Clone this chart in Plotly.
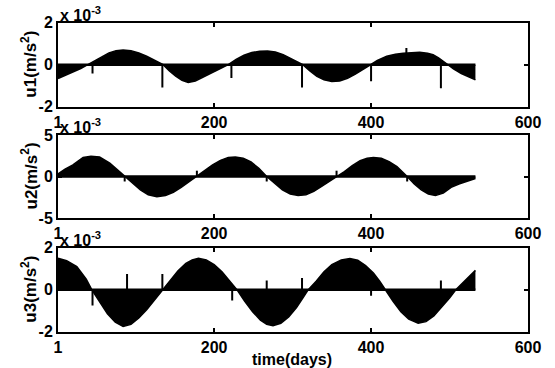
import plotly.graph_objects as go

W, H = 555, 368

# ---------------- data (values in units of 1e-3 m/s^2) ----------------
u1_days = [1, 10, 20, 30, 39, 48, 57, 66, 75, 84, 94, 104, 114, 124, 135,
           143, 151, 159, 167, 176, 185, 194, 203, 211, 218,
           228, 238, 248, 258, 268, 278, 288, 298, 306, 313,
           322, 331, 340, 350, 360, 370, 380, 390, 399,
           408, 420, 431, 441, 452, 462, 472, 479, 486, 492, 498,
           505, 515, 525, 533]
u1_vals = [-0.66, -0.52, -0.36, -0.18, 0.0, 0.2, 0.4, 0.56, 0.67, 0.7, 0.67, 0.56, 0.4, 0.2, 0.0,
           -0.3, -0.55, -0.74, -0.85, -0.78, -0.62, -0.45, -0.27, -0.12, 0.0,
           0.25, 0.45, 0.58, 0.64, 0.65, 0.6, 0.48, 0.3, 0.15, 0.0,
           -0.3, -0.55, -0.72, -0.8, -0.78, -0.65, -0.45, -0.22, 0.0,
           0.2, 0.4, 0.5, 0.55, 0.58, 0.59, 0.55, 0.48, 0.33, 0.16, 0.0,
           -0.2, -0.42, -0.6, -0.72]
u1_spike_days = [45, 134, 222, 312, 400, 445, 489]
u1_spike_vals = [-0.42, -1.08, -0.63, -1.08, -0.79, 0.79, -1.12]

u2_days = [1, 10, 20, 33, 43, 54, 67, 77, 86,
           96, 106, 116, 127, 138, 148, 158, 168, 178,
           188, 198, 208, 218, 227, 237, 247, 257, 267,
           277, 287, 297, 307, 317, 327, 337, 347, 356,
           366, 376, 386, 395, 403, 413, 423, 433, 440, 446,
           455, 464, 473, 482, 492, 502, 512, 522, 533]
u2_vals = [0.3, 0.9, 1.4, 2.3, 2.45, 2.35, 1.6, 0.8, 0.0,
           -0.8, -1.6, -2.2, -2.45, -2.3, -1.9, -1.3, -0.6, 0.0,
           0.7, 1.4, 1.95, 2.3, 2.35, 2.2, 1.75, 1.0, 0.0,
           -0.8, -1.6, -2.1, -2.3, -2.2, -1.8, -1.2, -0.6, 0.0,
           0.6, 1.3, 1.9, 2.2, 2.3, 2.2, 1.8, 1.2, 0.6, 0.0,
           -0.9, -1.6, -2.1, -2.3, -2.0, -1.3, -0.9, -0.55, -0.25]
u2_spike_days = [86, 178, 267, 356, 446]
u2_spike_vals = [-0.6, 0.7, -0.6, 0.7, -0.6]

u3_days = [1, 12, 25, 37, 44,
           54, 64, 74, 84, 94, 104, 114, 124, 134,
           144, 154, 164, 172, 180, 190, 200, 210, 220, 229,
           239, 249, 259, 267, 275, 285, 295, 305, 313, 320,
           330, 340, 350, 362, 373, 383, 393, 403, 411, 418,
           428, 438, 448, 460, 470, 480, 490, 500, 508,
           516, 525, 533]
u3_vals = [1.5, 1.38, 1.1, 0.5, 0.0,
           -0.6, -1.15, -1.55, -1.75, -1.65, -1.35, -0.95, -0.5, 0.0,
           0.45, 0.9, 1.25, 1.42, 1.5, 1.42, 1.2, 0.85, 0.4, 0.0,
           -0.55, -1.05, -1.45, -1.65, -1.72, -1.6, -1.3, -0.85, -0.4, 0.0,
           0.4, 0.85, 1.2, 1.42, 1.48, 1.4, 1.15, 0.8, 0.4, 0.0,
           -0.55, -1.05, -1.4, -1.6, -1.52, -1.25, -0.85, -0.4, 0.0,
           0.3, 0.62, 0.92]
u3_spike_days = [45, 89, 134, 223, 267, 312, 400, 489]
u3_spike_vals = [-0.75, 0.75, 0.75, -0.52, 0.44, 0.56, -0.29, 0.44]

x_ticks = [1, 200, 400, 600]
x_range = [1, 600]
y_ranges = [[-2, 2], [-5, 5], [-2, 2]]
y_ticks = [[-2, 0, 2], [-5, 0, 5], [-2, 0, 2]]
y_titles = ["u1(m/s<sup>2</sup>)", "u2(m/s<sup>2</sup>)", "u3(m/s<sup>2</sup>)"]
x_title = "time(days)"
exp_label = "x 10<sup>-3</sup>"
data_end = 533

series = [(u1_days, u1_vals, u1_spike_days, u1_spike_vals),
          (u2_days, u2_vals, u2_spike_days, u2_spike_vals),
          (u3_days, u3_vals, u3_spike_days, u3_spike_vals)]

# ---------------- layout geometry (pixels) ----------------
left_px, right_px = 58, 528
plot_px = [(22.7, 106.7), (135, 218), (247.7, 331.7)]

FONT = dict(family="Liberation Sans, Arial, sans-serif", size=16, color="black", weight="bold")
TFONT = dict(family="Liberation Sans, Arial, sans-serif", size=17, color="black", weight="bold")

fig = go.Figure()
for i, (d, v, sd, sv) in enumerate(series):
    xa = "x" if i == 0 else f"x{i+1}"
    ya = "y" if i == 0 else f"y{i+1}"
    fig.add_trace(go.Scatter(x=d, y=v, xaxis=xa, yaxis=ya, mode="lines",
                             fill="tozeroy", fillcolor="black",
                             line=dict(color="black", width=1.5),
                             hoverinfo="skip", showlegend=False))
    fig.add_trace(go.Scatter(x=[x_range[0], data_end], y=[0, 0], xaxis=xa, yaxis=ya,
                             mode="lines", line=dict(color="black", width=2.5),
                             hoverinfo="skip", showlegend=False))
    sx, sy = [], []
    for dd, vv in zip(sd, sv):
        sx += [dd, dd, None]
        sy += [0, vv, None]
    fig.add_trace(go.Scatter(x=sx, y=sy, xaxis=xa, yaxis=ya, mode="lines",
                             line=dict(color="black", width=2),
                             hoverinfo="skip", showlegend=False))

layout = dict(width=W, height=H, margin=dict(l=0, r=0, t=0, b=0),
              paper_bgcolor="white", plot_bgcolor="white", showlegend=False,
              font=FONT)
annotations = []
for i in range(3):
    top, bot = plot_px[i]
    xk = "xaxis" if i == 0 else f"xaxis{i+1}"
    yk = "yaxis" if i == 0 else f"yaxis{i+1}"
    ya = "y" if i == 0 else f"y{i+1}"
    xa = "x" if i == 0 else f"x{i+1}"
    layout[xk] = dict(domain=[left_px / W, right_px / W], anchor=ya, range=x_range,
                      tickvals=x_ticks, ticktext=[str(t) for t in x_ticks],
                      ticks="inside", ticklen=4, tickwidth=1.8, tickcolor="black",
                      showline=True, linecolor="black", linewidth=2, mirror="ticks",
                      showgrid=False, zeroline=False, tickfont=FONT, automargin=False)
    layout[yk] = dict(domain=[1 - bot / H, 1 - top / H], anchor=xa, range=y_ranges[i],
                      tickvals=y_ticks[i], ticktext=[str(t) for t in y_ticks[i]],
                      ticks="inside", ticklen=4, tickwidth=1.8, tickcolor="black",
                      showline=True, linecolor="black", linewidth=2, mirror="ticks",
                      showgrid=False, zeroline=False, tickfont=FONT, automargin=False)
    annotations.append(dict(text=exp_label, xref="paper", yref="paper",
                            x=left_px / W, y=1 - top / H, xanchor="left", yanchor="bottom",
                            showarrow=False, font=FONT, yshift=-3))
    annotations.append(dict(text=y_titles[i], xref="paper", yref="paper",
                            x=29 / W, y=1 - (top + bot) / 2 / H, xanchor="center",
                            yanchor="middle", textangle=-90, showarrow=False, font=TFONT))
annotations.append(dict(text=x_title, xref="paper", yref="paper",
                        x=292 / W, y=1 - 359 / H, xanchor="center", yanchor="middle",
                        showarrow=False, font=FONT))
layout["annotations"] = annotations
fig.update_layout(**layout)
fig.write_html("out.html", config={"displayModeBar": False},
               post_script="document.body.style.margin='0';document.body.style.padding='0';")
